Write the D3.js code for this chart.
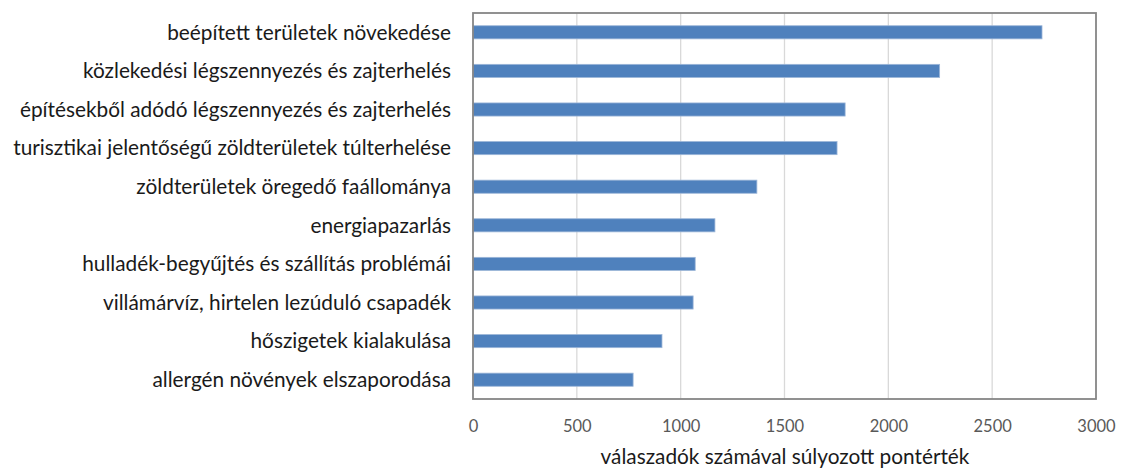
<!DOCTYPE html>
<html>
<head>
<meta charset="utf-8">
<script src="https://cdn.jsdelivr.net/npm/d3@7"></script>
<style>
  body { margin: 0; background: #fff; }
  text { font-family: Lato, "Open Sans", sans-serif; }
</style>
</head>
<body>
<div id="chart"></div>
<script>
// kategóriák felülről lefelé
const categories = [
    'beépített területek növekedése',
    'közlekedési légszennyezés és zajterhelés',
    'építésekből adódó légszennyezés és zajterhelés',
    'turisztikai jelentőségű zöldterületek túlterhelése',
    'zöldterületek öregedő faállománya',
    'energiapazarlás',
    'hulladék-begyűjtés és szállítás problémái',
    'villámárvíz, hirtelen lezúduló csapadék',
    'hőszigetek kialakulása',
    'allergén növények elszaporodása'
]
const values = [2740, 2247, 1792, 1753, 1367, 1165, 1070, 1060, 910, 771]
const ticks = [0, 500, 1000, 1500, 2000, 2500, 3000]
const axisTitle = 'válaszadók számával súlyozott pontérték'

const width = 1121
const height = 468
const margin = {top: 13, right: 25, bottom: 69, left: 473}

const svg = d3.select('#chart').append('svg')
    .attr('width', width)
    .attr('height', height)

const x = d3.scaleLinear()
    .domain([0, 3000])
    .range([margin.left, width - margin.right])

const y = d3.scaleBand()
    .domain(categories)
    .range([margin.top, height - margin.bottom])
    .paddingInner(0.66)
    .paddingOuter(0.33)

// rácsvonalak
svg.append('g')
    .selectAll('line')
    .data(ticks.slice(1, -1))
    .join('line')
    .attr('x1', d => x(d)).attr('x2', d => x(d))
    .attr('y1', margin.top).attr('y2', height - margin.bottom)
    .attr('stroke', '#d9d9d9')
    .attr('stroke-width', 1.3)

// oszlopok
svg.append('g')
    .selectAll('rect')
    .data(values)
    .join('rect')
    .attr('x', x(0))
    .attr('y', (d, i) => y(categories[i]))
    .attr('width', d => x(d) - x(0))
    .attr('height', y.bandwidth())
    .attr('fill', '#4f81bd')
    .attr('stroke', '#9cb6d8')
    .attr('stroke-width', 0.8)

// keret
svg.append('rect')
    .attr('x', margin.left)
    .attr('y', margin.top)
    .attr('width', x(3000) - x(0))
    .attr('height', height - margin.bottom - margin.top)
    .attr('fill', 'none')
    .attr('stroke', '#868686')
    .attr('stroke-width', 1.8)

// kategória feliratok
svg.append('g')
    .selectAll('text')
    .data(categories)
    .join('text')
    .attr('x', 451)
    .attr('y', d => y(d) + y.bandwidth() / 2)
    .attr('dy', '0.35em')
    .attr('text-anchor', 'end')
    .attr('font-size', 20.8)
    .attr('fill', '#1a1a1a')
    .text(d => d)

// x tengely feliratai
const xAxis = d3.axisBottom(x).tickValues(ticks).tickSize(0).tickPadding(0).tickFormat(d3.format('d'))
const gx = svg.append('g')
    .attr('transform', `translate(0, ${height - margin.bottom + 33})`)
    .call(xAxis)
gx.select('.domain').remove()
gx.selectAll('text')
    .attr('dy', null)
    .attr('font-size', 16.5)
    .attr('fill', '#595959')
    .attr('font-family', 'Lato, sans-serif')

svg.append('text')
    .attr('x', 785)
    .attr('y', 464)
    .attr('text-anchor', 'middle')
    .attr('font-size', 20.8)
    .attr('fill', '#1a1a1a')
    .text(axisTitle)
</script>
</body>
</html>
